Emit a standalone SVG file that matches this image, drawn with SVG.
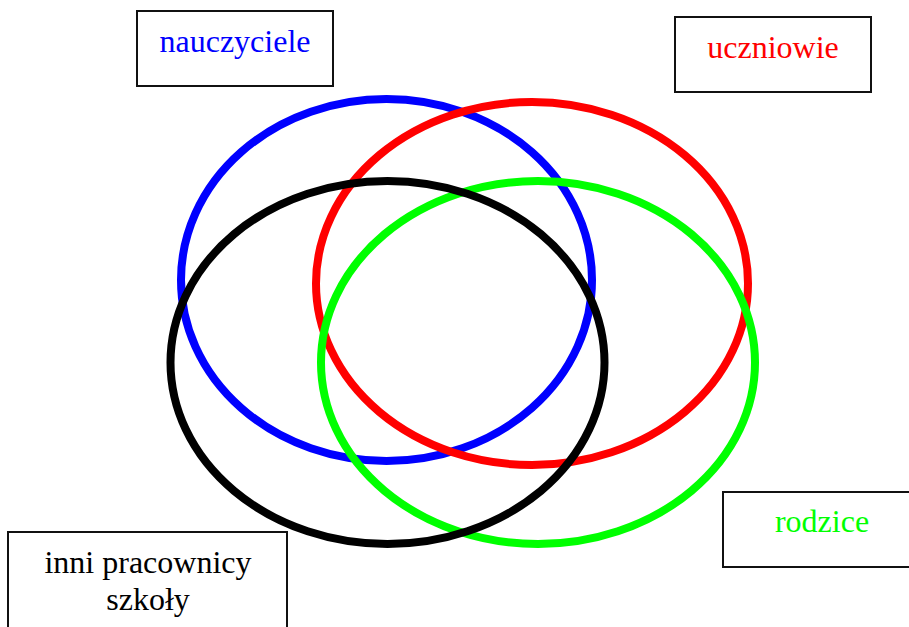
<svg xmlns="http://www.w3.org/2000/svg" width="909" height="627" viewBox="0 0 909 627">
<style>
.box{fill:#fff;stroke:#111;stroke-width:2}
.lbl{font-family:"Liberation Serif","Times New Roman",serif;font-size:32px;text-anchor:middle}
.ring{fill:none;stroke-width:8}
</style>
<rect width="909" height="627" fill="#fff"/>
<g id="sets">
<ellipse id="set-nauczyciele" class="ring" cx="386.5" cy="280" rx="205.5" ry="181" stroke="#0000ff"/>
<ellipse id="set-uczniowie" class="ring" cx="532" cy="283.5" rx="216" ry="181.5" stroke="#ff0000"/>
<ellipse id="set-rodzice" class="ring" cx="538" cy="362.5" rx="217" ry="181.5" stroke="#00ff00"/>
<ellipse id="set-inni" class="ring" cx="387.5" cy="362.5" rx="217" ry="181.5" stroke="#000000"/>
</g>
<g id="nauczyciele">
<rect class="box" x="137" y="11" width="196" height="75"/>
<text class="lbl" x="235" y="52" fill="#0000ff">nauczyciele</text>
</g>
<g id="uczniowie">
<rect class="box" x="675" y="17" width="196" height="75"/>
<text class="lbl" x="773" y="58" fill="#ff0000">uczniowie</text>
</g>
<g id="rodzice">
<rect class="box" x="723" y="492" width="198" height="75"/>
<text class="lbl" x="822" y="532" fill="#00ff00">rodzice</text>
</g>
<g id="inni">
<rect class="box" x="8" y="532" width="279" height="100"/>
<text class="lbl" x="148" y="573" fill="#000">inni pracownicy</text>
<text class="lbl" x="148" y="610" fill="#000">szkoły</text>
</g>
<g id="connectors"></g>
</svg>
